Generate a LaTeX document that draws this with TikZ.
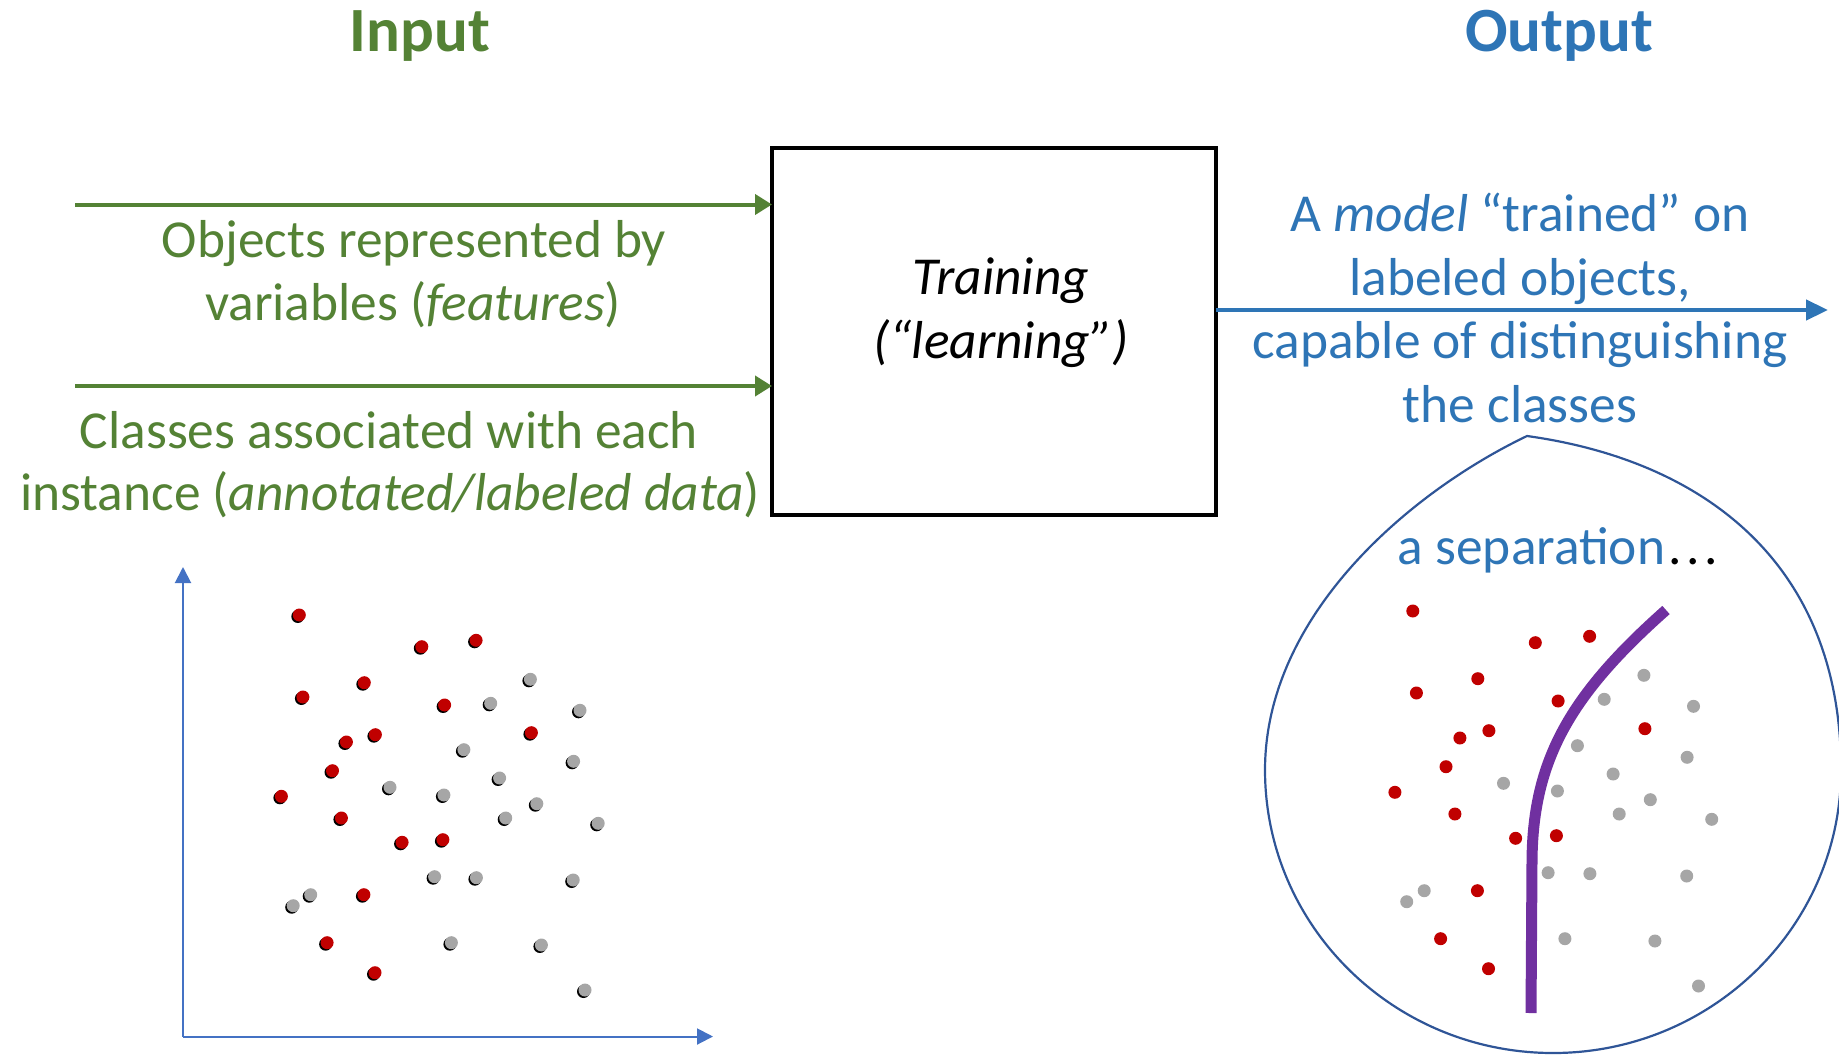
\documentclass[tikz,border=0pt]{standalone}
\usepackage{fontspec}
\setmainfont{Carlito}
\usetikzlibrary{arrows.meta}
\definecolor{ingreen}{HTML}{548235}
\definecolor{outblue}{HTML}{2E75B6}
\definecolor{axisblue}{HTML}{4472C4}
\definecolor{bubbleblue}{HTML}{2F5597}
\definecolor{sepviolet}{HTML}{7030A0}
\definecolor{dotred}{HTML}{C00000}
\definecolor{dotgray}{HTML}{A6A6A6}
\begin{document}
\begin{tikzpicture}[x=0.5pt,y=-0.5pt,
  every node/.style={inner sep=0pt,outer sep=0pt},
  body/.style={font=\fontsize{26.7pt}{32pt}\selectfont,anchor=base},
  heading/.style={font=\fontsize{31.5pt}{38pt}\selectfont\bfseries,anchor=base},
  inarrow/.style={ingreen,line width=2pt,-{Triangle[length=8.5pt,width=10pt]}},
  outarrow/.style={outblue,line width=2.2pt,-{Triangle[length=11pt,width=10pt]}},
  axisline/.style={axisblue,line width=1pt,-{Triangle[length=8pt,width=8pt]}},
  trainbox/.style={draw=black,line width=1.75pt,minimum width=222pt,minimum height=183.5pt},
  bubble/.style={draw=bubbleblue,line width=1.1pt},
  boundary/.style={sepviolet,line width=5.5pt}]
\useasboundingbox (0,0) rectangle (1839,1054);

% headings
\node[heading,text=ingreen] (hin) at (420,52) {Input};
\node[heading,text=outblue] (hout) at (1559,52) {Output};

% training block
\node[trainbox] (box) at (994,331.5) {};
\node[body] (tr1) at (1001,294) {\itshape Training};
\node[body] (tr2) at (1001,358) {\itshape (“learning”)};

% inputs
\coordinate (src1) at (75,204.5);
\coordinate (src2) at (75,386);
\draw[inarrow] (src1) -- (src1 -| box.west);
\draw[inarrow] (src2) -- (src2 -| box.west);
\node[body,text=ingreen] (obj1) at (414,257) {Objects represented by};
\node[body,text=ingreen] (obj2) at (413,320) {variables (\textit{features})};
\node[body,text=ingreen] (cls1) at (389,448) {Classes associated with each};
\node[body,text=ingreen] (cls2) at (390,510) {instance (\textit{annotated/labeled data})};

% output
\coordinate (dst) at (1828,310);
\draw[outarrow] (dst -| box.east) -- (dst);
\node[body,text=outblue] (out1) at (1520,231) {A \textit{model} “trained” on};
\node[body,text=outblue] (out2) at (1520,295) {labeled objects,};
\node[body,text=outblue] (out3) at (1520,358) {capable of distinguishing};
\node[body,text=outblue] (out4) at (1520,422) {the classes};

% feature space axes
\coordinate (origin) at (183,1036.5);
\coordinate (ytip) at (183,567);
\coordinate (xtip) at (713,1036.5);
\draw[axisline] (origin) -- (ytip);
\draw[axisline] (origin) -- (xtip);

\def\reddots{299.3/615, 421.8/646.7, 476.1/640.3, 364.3/682.7, 302.9/697,
  444.6/705, 375.4/734.7, 346.4/742, 531.4/732.7, 332.5/770.7, 281.4/796.3,
  341.4/818, 402.1/842.3, 442.9/839.7, 363.9/894.7, 327.1/942.7, 375/972.7}
\def\graydots{530.4/679.3, 490.7/703.3, 580/710.3, 463.9/749.7, 573.6/761.3,
  499.6/778, 390/787.3, 443.9/795, 536.8/803.7, 505.7/818, 598.2/823.3,
  434.6/876.7, 476.4/877.7, 573.2/880, 310.7/894.7, 293.2/905.7,
  451.4/942.7, 541.4/945, 585/990}

% labeled samples with a small shadow
\foreach \px/\py in \reddots {
  \fill[black] (\px-1.5,\py+1.5) circle[radius=6.5];
  \fill[dotred] (\px,\py) circle[radius=6.5];
}
\foreach \px/\py in \graydots {
  \fill[black] (\px-1.5,\py+1.5) circle[radius=6.5];
  \fill[dotgray] (\px,\py) circle[radius=6.5];
}

% learned separation
\draw[bubble] (1527,436) .. controls (1410,492) and (1265,615) .. (1265,770)
  arc[start angle=180,end angle=0,x radius=288,y radius=283]
  .. controls (1841,560) and (1700,460) .. cycle;
\node[body,text=outblue] (sep) at (1558,564)
  {a separation\textcolor{black}{\kern1.5pt.\kern2.4pt.\kern2.4pt.}};
\begin{scope}[shift={(1113.5,-4)}]
  \foreach \px/\py in \reddots {\fill[dotred] (\px,\py) circle[radius=6.5];}
  \foreach \px/\py in \graydots {\fill[dotgray] (\px,\py) circle[radius=6.5];}
\end{scope}
\coordinate (bndtop) at (1666,610);
\coordinate (bndbot) at (1531,1013);
\draw[boundary] (bndtop) .. controls (1570,695) and (1533,760) .. (1532,860) -- (bndbot);
\end{tikzpicture}
\end{document}
